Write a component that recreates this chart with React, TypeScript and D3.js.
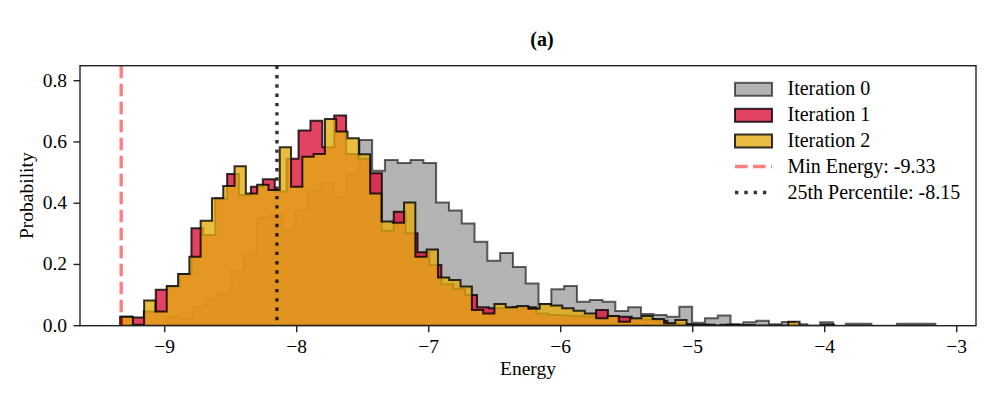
import React from "react";
import * as d3 from "d3";

// ---- data (histogram densities) ----
const iter0Start = -8.9803;
const iter0Width = 0.09697;
const iter0Values = [
  0.029, 0.022, 0.062, 0.085, 0.104, 0.176, 0.233, 0.351, 0.357, 0.313,
  0.377, 0.44, 0.464, 0.419, 0.495, 0.606, 0.506, 0.541, 0.531, 0.541,
  0.531, 0.402, 0.376, 0.334, 0.274, 0.212, 0.237, 0.192, 0.138, 0.07,
  0.119, 0.13, 0.078, 0.084, 0.078, 0.048, 0.06, 0.038, 0.035, 0.029,
  0.062, 0.01, 0.024, 0.033, 0.005, 0.011, 0.016, 0.005, 0.012, 0.005,
  0, 0.011, 0, 0.006, 0.006, 0, 0, 0.006, 0.006, 0.006,
];

const iter1Start = -9.3386;
const iter1Width = 0.09015;
const iter1Values = [
  0.029, 0.027, 0.046, 0.117, 0.127, 0.168, 0.318, 0.296, 0.415, 0.495,
  0.427, 0.454, 0.478, 0.438, 0.545, 0.637, 0.669, 0.583, 0.686, 0.561,
  0.545, 0.498, 0.31, 0.372, 0.302, 0.24, 0.198, 0.135, 0.12, 0.1,
  0.06, 0.057, 0.058, 0.06, 0.06, 0.04, 0.035, 0.033, 0.032, 0.03,
  0.051, 0.03, 0.029, 0.022, 0.02, 0.016, 0.006, 0.005, 0.002, 0.003,
  0, 0.003, 0, 0, 0, 0, 0, 0, 0, 0.004,
];

const iter2Start = -9.3273;
const iter2Width = 0.08561;
const iter2Values = [
  0.029, 0.003, 0.082, 0.046, 0.13, 0.169, 0.225, 0.343, 0.416, 0.456,
  0.521, 0.432, 0.46, 0.443, 0.583, 0.454, 0.552, 0.561, 0.675, 0.634,
  0.612, 0.56, 0.432, 0.34, 0.336, 0.402, 0.225, 0.249, 0.157, 0.149,
  0.128, 0.051, 0.04, 0.071, 0.06, 0.064, 0.055, 0.071, 0.066, 0.057,
  0.049, 0.04, 0.024, 0.032, 0.013, 0.024, 0.032, 0.022, 0.008, 0.019,
  0.004, 0.003, 0, 0.003, 0, 0.002, 0, 0, 0, 0.013,
];

const minEnergy = -9.33;
const percentile25 = -8.15;

const xTicks = [-9, -8, -7, -6, -5, -4, -3];
const yTicks = [0, 0.2, 0.4, 0.6, 0.8];
const seriesNames = ["Iteration 0", "Iteration 1", "Iteration 2"];

// ---- layout ----
const W = 997;
const H = 399;
const M = { left: 80, right: 976, top: 65.7, bottom: 325.7 };
const FONT = "'Liberation Serif', 'Times New Roman', serif";
const FS = 19.5;
const LFS = 20;

const series = [
  { name: seriesNames[0], start: iter0Start, width: iter0Width, values: iter0Values, fill: "#808080", alpha: 0.6 },
  { name: seriesNames[1], start: iter1Start, width: iter1Width, values: iter1Values, fill: "#DC143C", alpha: 0.8 },
  { name: seriesNames[2], start: iter2Start, width: iter2Width, values: iter2Values, fill: "#E3AC12", alpha: 0.8 },
];

export default function App() {
  const x = d3.scaleLinear().domain([-9.642, -2.854]).range([M.left, M.right]);
  const y = d3.scaleLinear().domain([0, 0.849]).range([M.bottom, M.top]);

  const stepPath = (s: typeof series[number]) => {
    const p = d3.path();
    const n = s.values.length;
    p.moveTo(x(s.start), y(0));
    s.values.forEach((v, i) => {
      const e0 = s.start + i * s.width;
      const e1 = s.start + (i + 1) * s.width;
      p.lineTo(x(e0), y(v));
      p.lineTo(x(e1), y(v));
    });
    p.lineTo(x(s.start + n * s.width), y(0));
    p.closePath();
    return p.toString();
  };

  const legendX = 735;
  const legendRows = [89.3, 115.3, 141, 166.5, 192.5];

  return (
    <svg width={W} height={H} style={{ display: "block", position: "absolute", left: 0, top: 0 }}>
      <rect x={0} y={0} width={W} height={H} fill="#fff" />
      <defs>
        <clipPath id="plotclip">
          <rect x={M.left} y={M.top} width={M.right - M.left} height={M.bottom - M.top} />
        </clipPath>
      </defs>
      <text x={542} y={46} textAnchor="middle" fontFamily={FONT} fontWeight="bold" fontSize={20}>
        (a)
      </text>
      <g clipPath="url(#plotclip)">
        {series.map((s) => (
          <path
            key={s.name}
            d={stepPath(s)}
            fill={s.fill}
            fillOpacity={s.alpha}
            stroke="#000"
            strokeOpacity={s.alpha}
            strokeWidth={2}
            strokeLinejoin="miter"
          />
        ))}
        <line
          x1={x(minEnergy)}
          x2={x(minEnergy)}
          y1={M.top}
          y2={M.bottom}
          stroke="#ff0000"
          strokeOpacity={0.5}
          strokeWidth={3.4}
          strokeDasharray="12.6 5.4"
        />
        <line
          x1={x(percentile25)}
          x2={x(percentile25)}
          y1={M.top}
          y2={M.bottom}
          stroke="#000"
          strokeOpacity={0.8}
          strokeWidth={3.4}
          strokeDasharray="3.4 5.9"
        />
      </g>
      {/* frame */}
      <rect
        x={M.left}
        y={M.top}
        width={M.right - M.left}
        height={M.bottom - M.top}
        fill="none"
        stroke="#222"
        strokeWidth={1.4}
      />
      {/* x axis */}
      {xTicks.map((t) => (
        <g key={t}>
          <line x1={x(t)} x2={x(t)} y1={M.bottom} y2={M.bottom + 6.5} stroke="#222" strokeWidth={1.4} />
          <text x={x(t)} y={M.bottom + 27} textAnchor="middle" fontFamily={FONT} fontSize={FS}>
            {t < 0 ? "\u2212" + Math.abs(t) : String(t)}
          </text>
        </g>
      ))}
      <text x={(M.left + M.right) / 2} y={375} textAnchor="middle" fontFamily={FONT} fontSize={FS}>
        Energy
      </text>
      {/* y axis */}
      {yTicks.map((t) => (
        <g key={t}>
          <line x1={M.left - 6.5} x2={M.left} y1={y(t)} y2={y(t)} stroke="#222" strokeWidth={1.4} />
          <text x={M.left - 13} y={y(t) + 6} textAnchor="end" fontFamily={FONT} fontSize={FS}>
            {t.toFixed(1)}
          </text>
        </g>
      ))}
      <text
        transform={`translate(${33},${(M.top + M.bottom) / 2}) rotate(-90)`}
        textAnchor="middle"
        fontFamily={FONT}
        fontSize={FS}
      >
        Probability
      </text>
      {/* legend */}
      {series.map((s, i) => (
        <g key={s.name}>
          <rect
            x={legendX}
            y={legendRows[i] - 6.5}
            width={37}
            height={13}
            fill={s.fill}
            fillOpacity={s.alpha}
            stroke="#000"
            strokeOpacity={s.alpha}
            strokeWidth={2}
          />
          <text x={787.5} y={legendRows[i] + 6} fontFamily={FONT} fontSize={LFS}>
            {s.name}
          </text>
        </g>
      ))}
      <line
        x1={legendX}
        x2={legendX + 37}
        y1={legendRows[3]}
        y2={legendRows[3]}
        stroke="#ff0000"
        strokeOpacity={0.5}
        strokeWidth={3.4}
        strokeDasharray="12.6 5.4"
      />
      <text x={787.5} y={legendRows[3] + 6} fontFamily={FONT} fontSize={LFS}>
        Min Energy: -9.33
      </text>
      <line
        x1={legendX}
        x2={legendX + 37}
        y1={legendRows[4]}
        y2={legendRows[4]}
        stroke="#000"
        strokeOpacity={0.8}
        strokeWidth={3.4}
        strokeDasharray="3.4 5.9"
      />
      <text x={787.5} y={legendRows[4] + 6} fontFamily={FONT} fontSize={LFS}>
        25th Percentile: -8.15
      </text>
    </svg>
  );
}
